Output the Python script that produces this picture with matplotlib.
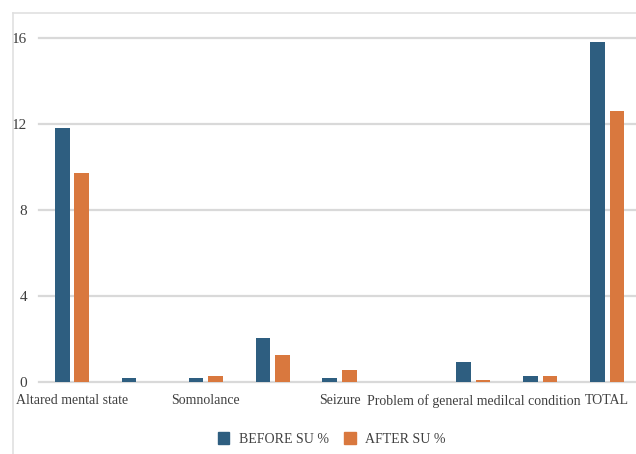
import matplotlib
matplotlib.use("Agg")
import matplotlib.pyplot as plt
from matplotlib.patches import Patch
import numpy as np

# Categories (only every other label is printed on the axis)
categories = ["Altared mental state", "", "Somnolance", "", "Seizure", "",
              "Problem of general medilcal condition", "", "TOTAL"]
before_su = [11.8, 0.15, 0.15, 2.05, 0.15, 0.0, 0.9, 0.25, 15.8]
after_su = [9.7, 0.0, 0.25, 1.25, 0.56, 0.0, 0.1, 0.25, 12.6]
yticks = [0, 4, 8, 12, 16]
series_names = ["BEFORE SU %", "AFTER SU %"]

BLUE = "#2e5e80"
ORANGE = "#d9783e"
GRID = "#d9d9d9"
TEXT = "#404040"
FONT = "Liberation Serif"
FS = 10

W, H = 636, 454
fig = plt.figure(figsize=(W / 100, H / 100), dpi=100)

# Light chart-area border along the top and left
fig.add_artist(plt.Line2D([12.5 / W, 1], [1 - 12.5 / H, 1 - 12.5 / H],
                          transform=fig.transFigure, color="#e0e0e0", lw=1.2))
fig.add_artist(plt.Line2D([12.5 / W, 12.5 / W], [0, 1 - 12.5 / H],
                          transform=fig.transFigure, color="#e0e0e0", lw=1.2))

y0 = 381.7
ppu = 21.5
ymax = 16.4
left = 38.5 / W
bottom = 1 - y0 / H
top = 1 - (y0 - ymax * ppu) / H
ax = fig.add_axes([left, bottom, 1 - left, top - bottom])

x = np.arange(len(categories))
bw = 0.22
off = 0.146
ax.bar(x - off, before_su, width=bw, color=BLUE, zorder=3, label=series_names[0])
ax.bar(x + off, after_su, width=bw, color=ORANGE, zorder=3, label=series_names[1])

ax.set_xlim(-0.5, -0.5 + (W - 38.5) / 66.9)
ax.set_ylim(0, ymax)
ax.set_yticks(yticks)
ax.set_yticklabels([str(v) for v in yticks], fontfamily=FONT, fontsize=11, color=TEXT)
ax.set_xticks(x)
ax.set_xticklabels(categories, fontfamily=FONT, fontsize=FS, color=TEXT)
ax.tick_params(axis="both", length=0)
ax.tick_params(axis="y", pad=8)
ax.tick_params(axis="x", pad=9)

for v in yticks:
    ax.axhline(v, color=GRID, lw=1.6, zorder=1, clip_on=False)
for s in ax.spines.values():
    s.set_visible(False)

handles = [Patch(color=BLUE, label=series_names[0]),
           Patch(color=ORANGE, label=series_names[1])]
fig.legend(handles=handles, loc="center", bbox_to_anchor=(332 / W, 1 - 439 / H),
           ncol=2, frameon=False, prop={"family": FONT, "size": FS},
           handlelength=0.8, handleheight=1.0, handletextpad=0.7, columnspacing=1.1,
           labelcolor=TEXT)

fig.savefig("out.png", dpi=100)
